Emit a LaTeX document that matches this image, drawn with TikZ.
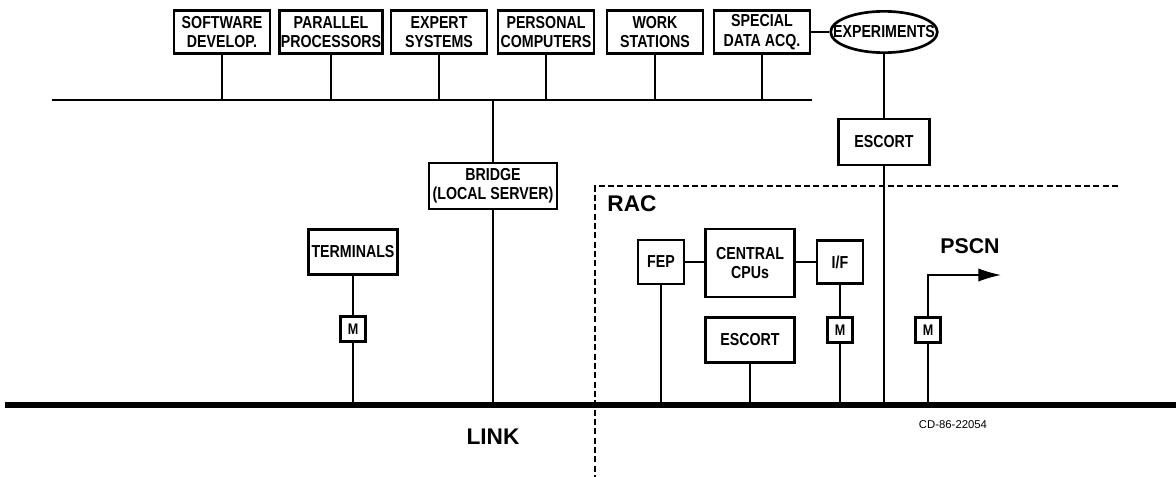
\documentclass[tikz,border=0pt]{standalone}
\usepackage{fontspec}
\setmainfont{Liberation Sans}
\newfontfamily\narrowfont[FakeStretch=0.82]{Liberation Sans}
\usetikzlibrary{arrows.meta,shapes.geometric,positioning}

\newcommand\boxfont{\narrowfont\bfseries\fontsize{13}{14.5}\selectfont}

\tikzset{
  unit/.style={draw, line width=2pt, font=\boxfont, align=center, inner sep=1pt},
  topbox/.style={unit, minimum width=72pt, minimum height=32pt},
  modem/.style={draw, line width=1.8pt, font=\narrowfont\bfseries\fontsize{11.5}{12}\selectfont,
                minimum size=18.5pt, inner sep=0pt},
  wire/.style={line width=1.1pt},
  link/.style={line width=4pt},
  region/.style={line width=1pt, dash pattern=on 4.5pt off 2.5pt},
  biglabel/.style={font=\bfseries\fontsize{17}{18}\selectfont}
}

\begin{document}
\begin{tikzpicture}[x=0.75pt, y=-0.75pt]
    \useasboundingbox (0,0) rectangle (1176,477);
    % the two buses
    \coordinate (busL) at (52,100);
    \coordinate (busR) at (812,100);
    \coordinate (linkL) at (5,405);
    \coordinate (linkR) at (1176,405);
    \draw[wire] (busL) -- (busR);
    \draw[link] (linkL) -- (linkR);
    % units on the upper bus
    \node[topbox] (soft) at (222,32) {SOFTWARE\\DEVELOP.};
    \node[topbox] (para) at (331,32) {PARALLEL\\PROCESSORS};
    \node[topbox] (expert) at (439,32) {EXPERT\\SYSTEMS};
    \node[topbox] (pc) at (546,32) {PERSONAL\\COMPUTERS};
    \node[topbox] (ws) at (655,32) {WORK\\STATIONS};
    \node[topbox] (sda) at (762,32) {SPECIAL\\DATA ACQ.};
    \foreach \u in {soft,para,expert,pc,ws,sda}
        \draw[wire] (\u.south) -- (\u.south |- busL);
    \node[ellipse, draw, line width=2pt, minimum width=80pt, minimum height=31pt, inner sep=0pt,
          label={[font=\boxfont]center:EXPERIMENTS}] (expt) at (884,32) {};
    \draw[wire] (sda.east) -- (expt.west);
    \node[unit, minimum width=68pt, minimum height=34.5pt] (escort) at (884,142) {ESCORT};
    \draw[wire] (expt.south) -- (escort.north);
    \draw[wire] (escort.south) -- (escort.south |- linkL);
    % bridge between the buses
    \node[unit, minimum width=96pt, minimum height=34.5pt] (bridge) at (493,186) {BRIDGE\\(LOCAL SERVER)};
    \draw[wire] (bridge.north) -- (bridge.north |- busL);
    \draw[wire] (bridge.south) -- (bridge.south |- linkL);
    % terminals
    \node[unit, minimum width=67pt, minimum height=34pt] (term) at (353,252) {TERMINALS};
    \node[modem] (mt) at (353,329) {M};
    \draw[wire] (term.south) -- (mt.north);
    \draw[wire] (mt.south) -- (mt.south |- linkL);
    % RAC region
    \coordinate (racTR) at (1118,186);
    \coordinate (racTL) at (595,186);
    \coordinate (racBL) at (595,477);
    \draw[region] (racTR) -- (racTL) -- (racBL);
    \node[biglabel] (rac) at (632,204) {RAC};
    \node[unit, minimum width=34.5pt, minimum height=33pt] (fep) at (661,262) {FEP};
    \node[unit, minimum width=67pt, minimum height=51pt] (cpu) at (750,263) {CENTRAL\\CPUs};
    \node[unit, minimum width=34.5pt, minimum height=32pt] (iface) at (840,262) {I/F};
    \node[unit, minimum width=67pt, minimum height=34pt] (esc) at (750,340) {ESCORT};
    \node[modem] (mi) at (840,330) {M};
    \draw[wire] (fep.east) -- (fep.east -| cpu.west);
    \draw[wire] (cpu.east |- iface.west) -- (iface.west);
    \draw[wire] (fep.south) -- (fep.south |- linkL);
    \draw[wire] (esc.south) -- (esc.south |- linkL);
    \draw[wire] (iface.south) -- (mi.north);
    \draw[wire] (mi.south) -- (mi.south |- linkL);
    % outgoing line to PSCN
    \node[modem] (mp) at (928,330) {M};
    \coordinate (pscnEnd) at (1001,275);
    \draw[wire] (mp.south) -- (mp.south |- linkL);
    \draw[wire, -{Latex[length=17pt, width=10pt]}] (mp.north) |- (pscnEnd);
    \node[biglabel, font=\bfseries\fontsize{16}{17}\selectfont] (pscn) at (970,246) {PSCN};
    % labels under the link
    \node[biglabel] (link) at (493,437) {LINK};
    \node[font=\fontsize{8.5}{9}\selectfont] (cd) at (953,425) {CD-86-22054};
\end{tikzpicture}
\end{document}
